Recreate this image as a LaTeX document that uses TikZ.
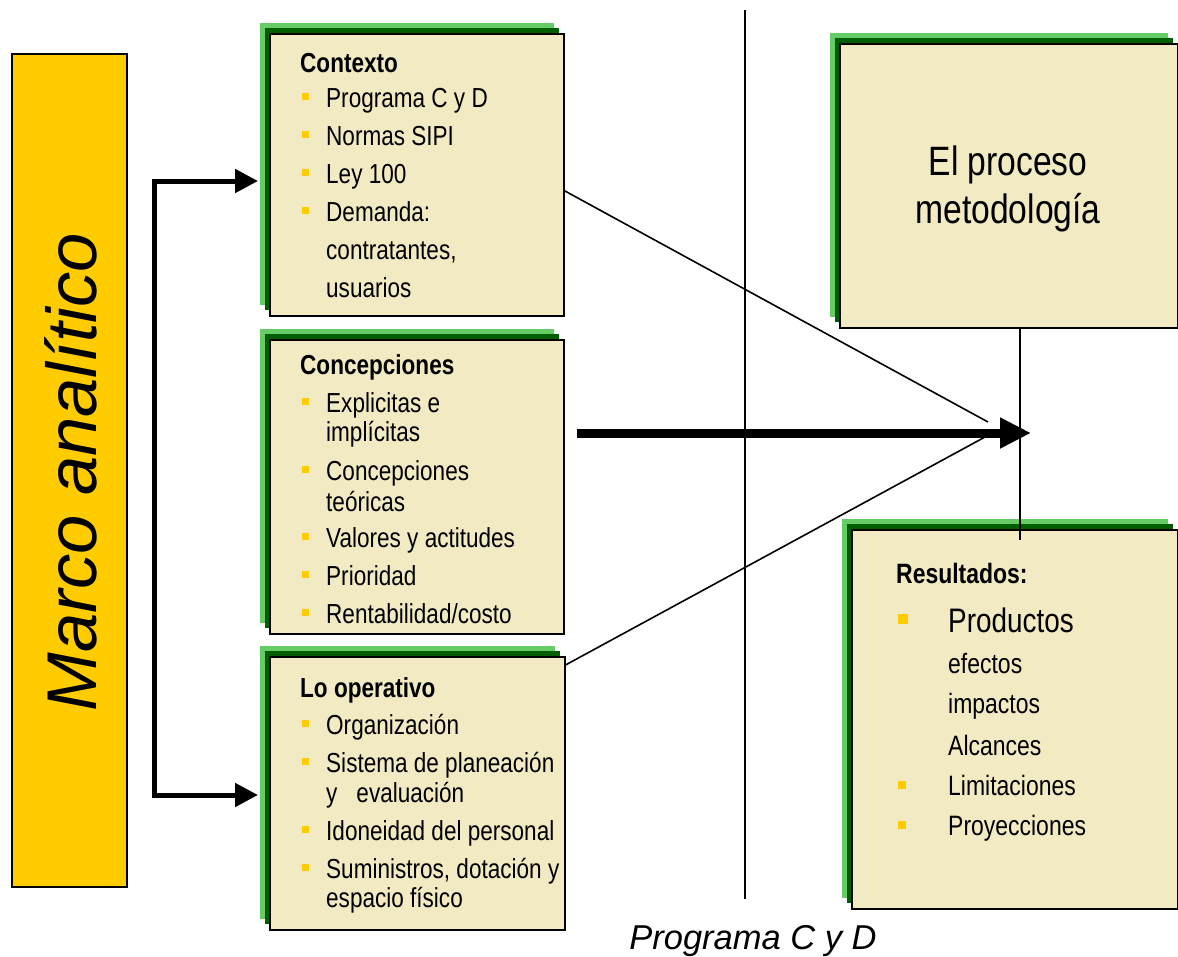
\documentclass[tikz,border=0pt]{standalone}
\usepackage{fontspec}
\setmainfont[FakeStretch=0.82]{Liberation Sans}
\newfontfamily\anchafont{Liberation Sans}
\usepackage{tikz}
\usetikzlibrary{arrows, arrows.meta, positioning, shadows}
\definecolor{beige}{HTML}{F2EAC2}
\definecolor{verdeclaro}{HTML}{66CC66}
\definecolor{verdeoscuro}{HTML}{005E00}
\definecolor{amarillo}{HTML}{FFCC00}
\tikzset{
	% Define box with its two green layers
	caja/.style={
		rectangle,
		draw=black,
		line width=1.5pt,
		fill=beige,
		anchor=north west,
		inner sep=0,
		general shadow={fill=verdeclaro, shadow xshift=-10pt, shadow yshift=11pt},
		general shadow={fill=verdeoscuro, shadow xshift=-5pt, shadow yshift=6pt}
	},
	% Define text styles
	titulo/.style={anchor=base west, inner sep=0, font=\bfseries\fontsize{27.5}{30}\selectfont},
	renglon/.style={anchor=base west, inner sep=0, font=\fontsize{27.5}{30}\selectfont},
	vineta/.style={rectangle, fill=amarillo, inner sep=0, minimum size=7.5pt},
	% Define arrow styles
	fina/.style={line width=1.6pt},
	llave/.style={
		{Triangle[length=23pt,width=23pt]}-{Triangle[length=23pt,width=23pt]},
		line width=5pt,
		shorten <=11pt,
		shorten >=11pt
	},
	flecha/.style={
		-{Triangle[length=31pt,width=29pt]},
		line width=9pt
	}
}

\begin{document}
\begin{tikzpicture}[x=1pt, y=-1pt]
\useasboundingbox (0,0) rectangle (1178,956);

% marco
\node[rectangle, draw=black, line width=1.5pt, fill=amarillo, anchor=north west, inner sep=0, minimum width=115pt, minimum height=833pt] at (11,53) (marco) {};
\node[rotate=90, anchor=base, inner sep=0, font=\anchafont\itshape\fontsize{70.5}{72}\selectfont] at (96,472) (marcoT) {Marco analítico};

% cajas
\node[caja, minimum width=294pt, minimum height=282pt] at (269,33) (ctx) {};
\node[caja, minimum width=294pt, minimum height=294pt] at (269,339) (cnc) {};
\node[caja, minimum width=295pt, minimum height=273pt] at (269,656) (ope) {};
\node[caja, minimum width=338pt, minimum height=284pt] at (839,43) (proc) {};
\node[caja, minimum width=326pt, minimum height=379pt] at (851,529) (res) {};

% contexto
\node[titulo] at (300,72) (ctxT) {Contexto};
\foreach \yb/\txt/\bl in {107/{Programa C y D}/1, 145/{Normas SIPI}/1, 183/{Ley 100}/1, 221/{Demanda:}/1, 259/{contratantes,}/0, 297/{usuarios}/0}{
	\node[renglon] at (326,\yb) (ctx\yb) {\txt};
	\ifnum\bl=1 \node[vineta] at (305.5,\yb-10.5) (ctxV\yb) {};\fi
}

% concepciones
\node[titulo] at (300,374) (cncT) {Concepciones};
\foreach \yb/\txt/\bl in {412/{Explicitas e}/1, 441/{implícitas}/0, 480/{Concepciones}/1, 511/{teóricas}/0, 547/{Valores y actitudes}/1, 585/{Prioridad}/1, 623/{Rentabilidad/costo}/1}{
	\node[renglon] at (326,\yb) (cnc\yb) {\txt};
	\ifnum\bl=1 \node[vineta] at (305.5,\yb-10.5) (cncV\yb) {};\fi
}

% lo operativo
\node[titulo] at (300,697) (opeT) {Lo operativo};
\foreach \yb/\txt/\bl in {734/{Organización}/1, 772/{Sistema de planeación}/1, 802/{y\hspace{19pt}evaluación}/0, 840/{Idoneidad del personal}/1, 878/{Suministros, dotación y}/1, 907/{espacio físico}/0}{
	\node[renglon] at (326,\yb) (ope\yb) {\txt};
	\ifnum\bl=1 \node[vineta] at (305.5,\yb-10.5) (opeV\yb) {};\fi
}

% proceso
\node[anchor=base, inner sep=0, font=\fontsize{41}{48}\selectfont] at (1008,175) (procA) {El proceso};
\node[anchor=base, inner sep=0, font=\fontsize{41}{48}\selectfont] at (1008,223) (procB) {metodología};

% resultados
\node[titulo, font=\bfseries\fontsize{28}{30}\selectfont] at (896,583) (resT) {Resultados:};
\node[renglon, font=\fontsize{34}{36}\selectfont] at (948,632) (res632) {Productos};
\node[vineta, minimum size=10pt] at (903,619) (resV632) {};
\foreach \yb/\txt/\bl in {673/{efectos}/0, 713/{impactos}/0, 755/{Alcances}/0, 795/{Limitaciones}/1, 835/{Proyecciones}/1}{
	\node[renglon, font=\fontsize{28}{30}\selectfont] at (948,\yb) (res\yb) {\txt};
	\ifnum\bl=1 \node[vineta, minimum size=8pt] at (902,\yb-10) (resV\yb) {};\fi
}

% puntos
\coordinate (brkT) at (154,181);
\coordinate (brkB) at (154,795);
\coordinate (divA) at (745,10);
\coordinate (divB) at (745,899);
\coordinate (eje) at (1020,540);
\coordinate (tipA) at (988,422);
\coordinate (tipB) at (985,437);
\coordinate (arS) at (577,433);
\coordinate (arE) at (1031,433);

% lineas
\draw[fina] (divA) -- (divB);
\draw[fina] (eje |- proc.south) -- (eje);
\draw[fina] ([yshift=-16pt]ctx.east) -- (tipA);
\draw[fina] ([yshift=-9pt]ope.north east) -- (tipB);

% llave
\draw[llave] (ctx.west |- brkT) -- (brkT) -- (brkB) -- (ope.west |- brkB);

% flecha
\draw[flecha] (arS) -- (arE);

% programa
\node[anchor=base, inner sep=0, font=\anchafont\itshape\fontsize{34.5}{36}\selectfont] at (753,949) (prog) {Programa C y D};

\end{tikzpicture}
\end{document}
